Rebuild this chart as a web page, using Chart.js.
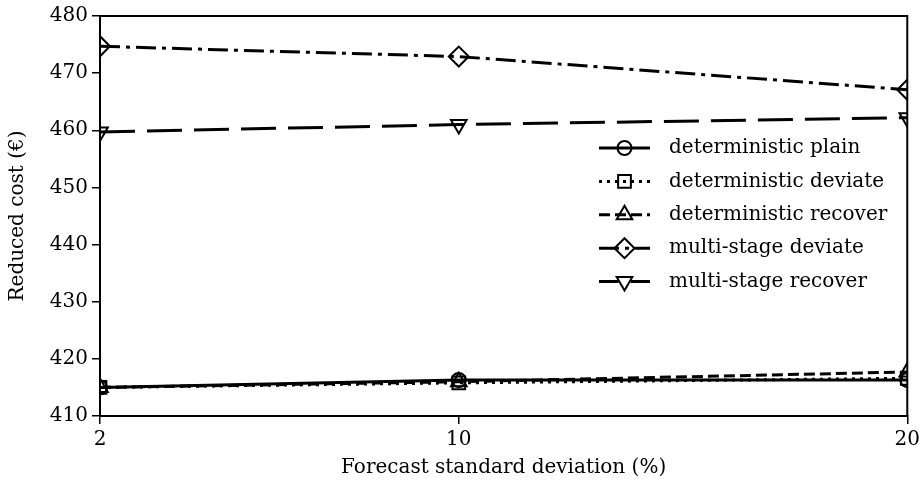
<!DOCTYPE html>
<html>
<head>
<meta charset="utf-8">
<script src="https://cdn.jsdelivr.net/npm/chart.js@4/dist/chart.umd.min.js"></script>
<style>
  html, body { margin: 0; padding: 0; background: #fff; }
  #wrap { width: 924px; height: 491px; }
</style>
</head>
<body>
<div id="wrap"><canvas id="costChart" width="924" height="491"></canvas></div>
<script>
// Forecast standard deviation (%) on x, reduced cost on y
const forecastStd = [2, 10, 20];
const xTickValues = [2, 10, 20];
const yTickMin = 410;
const yTickMax = 480;
const yTickStep = 10;

const detPlain = [415.0, 416.3, 416.3];
const detDeviate = [415.0, 415.8, 416.6];
const detRecover = [415.0, 416.0, 417.7];
const msDeviate = [474.7, 472.9, 467.1];
const msRecover = [459.7, 461.0, 462.2];

const seriesLabels = [
    'deterministic plain',
    'deterministic deviate',
    'deterministic recover',
    'multi-stage deviate',
    'multi-stage recover'
];

const FONT = "'DejaVu Serif', 'Liberation Serif', serif";

function toPoints(values) {
    return values.map((v, i) => ({ x: forecastStd[i], y: v }));
}

function makeSeries(label, values, dash, style, radius, rotation, legendOffset) {
    return {
        label: label,
        data: toPoints(values),
        borderColor: '#000',
        borderWidth: 3,
        borderDash: dash,
        borderCapStyle: 'butt',
        pointStyle: style,
        pointRadius: radius,
        pointHoverRadius: radius,
        pointRotation: rotation || 0,
        pointBorderColor: '#000',
        pointBorderWidth: 2,
        pointBackgroundColor: 'rgba(0,0,0,0)',
        tension: 0,
        clip: 0,
        legendDashOffset: legendOffset || 0
    };
}

// legend drawn inside the plot, line + marker + text like a matplotlib legend
const LEGEND = { lineStart: 599, lineEnd: 650, textX: 669, top: 148, row: 33.4 };

const seriesLegend = {
    id: 'seriesLegend',
    afterDraw(chart) {
        const ctx = chart.ctx;
        const mid = (LEGEND.lineStart + LEGEND.lineEnd) / 2;
        chart.data.datasets.forEach((ds, i) => {
            const y = LEGEND.top + i * LEGEND.row;
            ctx.save();
            ctx.strokeStyle = '#000';
            ctx.lineWidth = ds.borderWidth;
            ctx.lineCap = 'butt';
            ctx.setLineDash(ds.borderDash || []);
            ctx.lineDashOffset = ds.legendDashOffset;
            ctx.beginPath();
            ctx.moveTo(LEGEND.lineStart, y);
            ctx.lineTo(LEGEND.lineEnd, y);
            ctx.stroke();
            ctx.setLineDash([]);
            ctx.lineWidth = ds.pointBorderWidth;
            ctx.fillStyle = 'rgba(0,0,0,0)';
            Chart.helpers.drawPoint(ctx, {
                pointStyle: ds.pointStyle,
                rotation: ds.pointRotation,
                radius: ds.pointRadius,
                borderWidth: ds.pointBorderWidth
            }, mid, y);
            ctx.fillStyle = '#000';
            ctx.font = '20px ' + FONT;
            ctx.textBaseline = 'middle';
            ctx.textAlign = 'left';
            ctx.fillText(ds.label, LEGEND.textX, y);
            ctx.restore();
        });
    }
};

// closes the box on the top and right sides
const frameBox = {
    id: 'frameBox',
    afterDraw(chart) {
        const { ctx, chartArea: a } = chart;
        ctx.save();
        ctx.strokeStyle = '#000';
        ctx.lineWidth = 2;
        ctx.beginPath();
        ctx.moveTo(a.left, a.top);
        ctx.lineTo(a.right, a.top);
        ctx.lineTo(a.right, a.bottom);
        ctx.stroke();
        ctx.restore();
    }
};

const ctx = document.getElementById('costChart').getContext('2d');
new Chart(ctx, {
    type: 'line',
    data: {
        datasets: [
            makeSeries(seriesLabels[0], detPlain, [], 'circle', 7),
            makeSeries(seriesLabels[1], detDeviate, [3, 5], 'rect', 9),
            makeSeries(seriesLabels[2], detRecover, [11, 5], 'triangle', 9),
            makeSeries(seriesLabels[3], msDeviate, [20, 6, 4, 6], 'rectRot', 10),
            makeSeries(seriesLabels[4], msRecover, [35, 12], 'triangle', 9, 180, 15.5)
        ]
    },
    options: {
        responsive: false,
        animation: false,
        devicePixelRatio: 1,
        layout: { padding: { top: 14, right: 15, left: 0, bottom: 0 } },
        plugins: {
            legend: { display: false },
            tooltip: { enabled: false }
        },
        scales: {
            x: {
                type: 'linear',
                min: forecastStd[0],
                max: forecastStd[forecastStd.length - 1],
                afterBuildTicks(scale) {
                    scale.ticks = xTickValues.map(v => ({ value: v }));
                },
                afterFit(scale) { scale.height = 75; },
                grid: { drawOnChartArea: false, drawTicks: true, tickLength: 8, color: '#000', lineWidth: 1.5 },
                border: { display: true, color: '#000', width: 2 },
                ticks: { color: '#000', padding: 4, font: { family: FONT, size: 20 }, maxRotation: 0 },
                title: {
                    display: true,
                    text: 'Forecast standard deviation (%)',
                    color: '#000',
                    font: { family: FONT, size: 20 },
                    padding: { top: 0, bottom: 11 }
                }
            },
            y: {
                min: yTickMin,
                max: yTickMax,
                afterFit(scale) { scale.width = 100; },
                grid: { drawOnChartArea: false, drawTicks: true, tickLength: 8, color: '#000', lineWidth: 1.5 },
                border: { display: true, color: '#000', width: 2 },
                ticks: { stepSize: yTickStep, color: '#000', padding: 4, font: { family: FONT, size: 20 } },
                title: {
                    display: true,
                    text: 'Reduced cost (€)',
                    color: '#000',
                    font: { family: FONT, size: 20 },
                    padding: { top: 6, bottom: 0 }
                }
            }
        }
    },
    plugins: [frameBox, seriesLegend]
});
</script>
</body>
</html>
